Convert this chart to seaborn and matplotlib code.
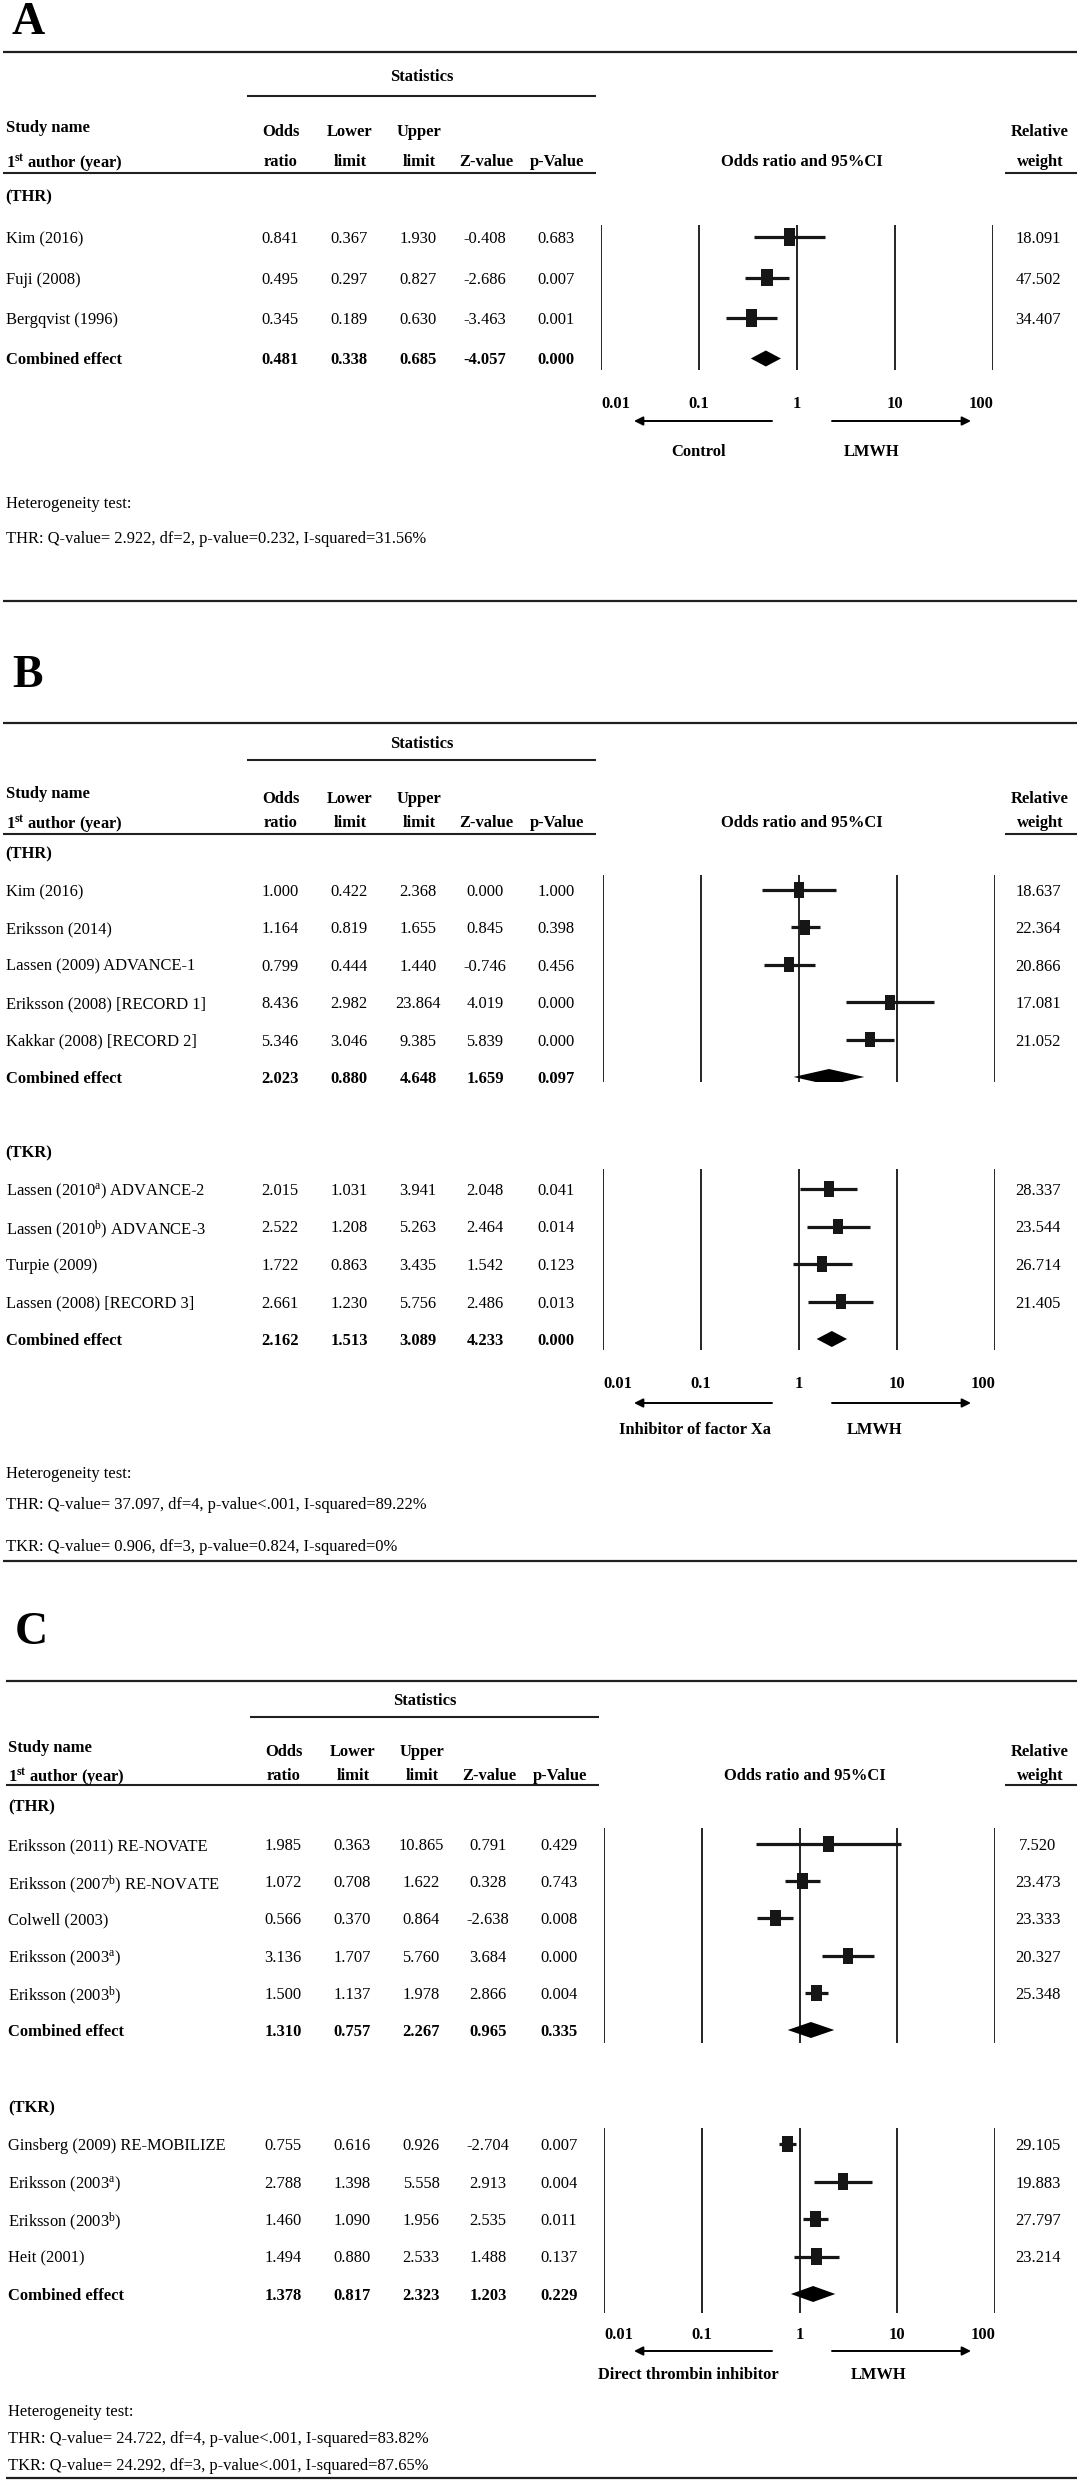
import numpy as np
import pandas as pd
import matplotlib
matplotlib.use("Agg")
import matplotlib.pyplot as plt
from matplotlib.ticker import NullLocator
import seaborn as sns

# ---------------- data ----------------
a_thr_names = ["Kim (2016)", "Fuji (2008)", "Bergqvist (1996)"]
a_thr_or = [0.841, 0.495, 0.345]
a_thr_lo = [0.367, 0.297, 0.189]
a_thr_hi = [1.930, 0.827, 0.630]
a_thr_z = [-0.408, -2.686, -3.463]
a_thr_p = [0.683, 0.007, 0.001]
a_thr_w = [18.091, 47.502, 34.407]
a_thr_comb = [0.481, 0.338, 0.685, -4.057, 0.000]

b_thr_names = ["Kim (2016)", "Eriksson (2014)", "Lassen (2009) ADVANCE-1",
               "Eriksson (2008) [RECORD 1]", "Kakkar (2008) [RECORD 2]"]
b_thr_or = [1.000, 1.164, 0.799, 8.436, 5.346]
b_thr_lo = [0.422, 0.819, 0.444, 2.982, 3.046]
b_thr_hi = [2.368, 1.655, 1.440, 23.864, 9.385]
b_thr_z = [0.000, 0.845, -0.746, 4.019, 5.839]
b_thr_p = [1.000, 0.398, 0.456, 0.000, 0.000]
b_thr_w = [18.637, 22.364, 20.866, 17.081, 21.052]
b_thr_comb = [2.023, 0.880, 4.648, 1.659, 0.097]

b_tkr_names = [r"Lassen (2010$^{\mathrm{a}}$) ADVANCE-2", r"Lassen (2010$^{\mathrm{b}}$) ADVANCE-3",
               "Turpie (2009)", "Lassen (2008) [RECORD 3]"]
b_tkr_or = [2.015, 2.522, 1.722, 2.661]
b_tkr_lo = [1.031, 1.208, 0.863, 1.230]
b_tkr_hi = [3.941, 5.263, 3.435, 5.756]
b_tkr_z = [2.048, 2.464, 1.542, 2.486]
b_tkr_p = [0.041, 0.014, 0.123, 0.013]
b_tkr_w = [28.337, 23.544, 26.714, 21.405]
b_tkr_comb = [2.162, 1.513, 3.089, 4.233, 0.000]

c_thr_names = ["Eriksson (2011) RE-NOVATE", r"Eriksson (2007$^{\mathrm{b}}$) RE-NOVATE",
               "Colwell (2003)", r"Eriksson (2003$^{\mathrm{a}}$)", r"Eriksson (2003$^{\mathrm{b}}$)"]
c_thr_or = [1.985, 1.072, 0.566, 3.136, 1.500]
c_thr_lo = [0.363, 0.708, 0.370, 1.707, 1.137]
c_thr_hi = [10.865, 1.622, 0.864, 5.760, 1.978]
c_thr_z = [0.791, 0.328, -2.638, 3.684, 2.866]
c_thr_p = [0.429, 0.743, 0.008, 0.000, 0.004]
c_thr_w = [7.520, 23.473, 23.333, 20.327, 25.348]
c_thr_comb = [1.310, 0.757, 2.267, 0.965, 0.335]

c_tkr_names = ["Ginsberg (2009) RE-MOBILIZE", r"Eriksson (2003$^{\mathrm{a}}$)",
               r"Eriksson (2003$^{\mathrm{b}}$)", "Heit (2001)"]
c_tkr_or = [0.755, 2.788, 1.460, 1.494]
c_tkr_lo = [0.616, 1.398, 1.090, 0.880]
c_tkr_hi = [0.926, 5.558, 1.956, 2.533]
c_tkr_z = [-2.704, 2.913, 2.535, 1.488]
c_tkr_p = [0.007, 0.004, 0.011, 0.137]
c_tkr_w = [29.105, 19.883, 27.797, 23.214]
c_tkr_comb = [1.378, 0.817, 2.323, 1.203, 0.229]

a_het = ["Heterogeneity test:",
         "THR: Q-value= 2.922, df=2, p-value=0.232, I-squared=31.56%"]
b_het = ["Heterogeneity test:",
         "THR: Q-value= 37.097, df=4, p-value<.001, I-squared=89.22%",
         "TKR: Q-value= 0.906, df=3, p-value=0.824, I-squared=0%"]
c_het = ["Heterogeneity test:",
         "THR: Q-value= 24.722, df=4, p-value<.001, I-squared=83.82%",
         "TKR: Q-value= 24.292, df=3, p-value<.001, I-squared=87.65%"]

tick_vals = [0.01, 0.1, 1, 10, 100]
tick_labels = ["0.01", "0.1", "1", "10", "100"]
hdr_top = ["Odds", "Lower", "Upper"]
hdr_bottom = ["ratio", "limit", "limit", "Z-value", "p-Value"]


def group(names, odds, lo, hi, z, p, w, comb):
    return dict(names=names, odds=odds, lower=lo, upper=hi, z=z, p=p, weight=w, combined=comb)


A_THR = group(a_thr_names, a_thr_or, a_thr_lo, a_thr_hi, a_thr_z, a_thr_p, a_thr_w, a_thr_comb)
B_THR = group(b_thr_names, b_thr_or, b_thr_lo, b_thr_hi, b_thr_z, b_thr_p, b_thr_w, b_thr_comb)
B_TKR = group(b_tkr_names, b_tkr_or, b_tkr_lo, b_tkr_hi, b_tkr_z, b_tkr_p, b_tkr_w, b_tkr_comb)
C_THR = group(c_thr_names, c_thr_or, c_thr_lo, c_thr_hi, c_thr_z, c_thr_p, c_thr_w, c_thr_comb)
C_TKR = group(c_tkr_names, c_tkr_or, c_tkr_lo, c_tkr_hi, c_tkr_z, c_tkr_p, c_tkr_w, c_tkr_comb)

# ---------------- layout (pixels) ----------------
panels = [
    dict(letter="A", dx=0, letter_y=23, top_rule=52, stats_y=75, stats_rule=96,
         hdr_study=126, hdr1=130, hdr2=160, hdr_rule=173, plot_x=(601, 993), tick_pad=19,
         arrow_y=421, side_y=450, left_side=("Control", 699), right_side=("LMWH", 872),
         het=a_het, het_y=[502, 537], bottom_rule=601, box=150,
         groups=[dict(data=A_THR, tag="(THR)", tag_y=195.5, row0=237, dy=40.5, top=224.6, bot=369.6)]),
    dict(letter="B", dx=0, letter_y=676, top_rule=723, stats_y=742, stats_rule=759.5,
         hdr_study=792, hdr1=796.6, hdr2=821, hdr_rule=833.7, plot_x=(603, 995), tick_pad=19,
         arrow_y=1403, side_y=1428, left_side=("Inhibitor of factor Xa", 695), right_side=("LMWH", 875),
         het=b_het, het_y=[1472, 1503, 1545], bottom_rule=1561, box=120,
         groups=[dict(data=B_THR, tag="(THR)", tag_y=852.5, row0=890, dy=37.4, top=874.5, bot=1082),
                 dict(data=B_TKR, tag="(TKR)", tag_y=1151.5, row0=1189, dy=37.5, top=1169, bot=1350)]),
    dict(letter="C", dx=3, letter_y=1633, top_rule=1680.6, stats_y=1698.6, stats_rule=1716.7,
         hdr_study=1746, hdr1=1750, hdr2=1773.7, hdr_rule=1785, plot_x=(604, 995), tick_pad=10,
         arrow_y=2351, side_y=2373, left_side=("Direct thrombin inhibitor", 688), right_side=("LMWH", 879),
         het=c_het, het_y=[2410, 2437, 2464], bottom_rule=2478, box=135,
         groups=[dict(data=C_THR, tag="(THR)", tag_y=1805.7, row0=1844, dy=37.2, top=1828, bot=2043),
                 dict(data=C_TKR, tag="(TKR)", tag_y=2106, row0=2144, dy=37.5, top=2127.6, bot=2313)]),
]

W, H = 1078, 2481
FS = 11.9
INK = "#161616"
COLS = [281, 350, 419, 486, 557]
BOX = [(-0.66, -1), (0.66, -1), (0.66, 1), (-0.66, 1), (-0.66, -1)]

sns.set_theme(style="white")
plt.rcParams["font.family"] = ["Liberation Serif", "DejaVu Serif"]
plt.rcParams["mathtext.fontset"] = "custom"
plt.rcParams["mathtext.rm"] = "Liberation Serif"
plt.rcParams["mathtext.it"] = "Liberation Serif:italic"
plt.rcParams["mathtext.bf"] = "Liberation Serif:bold"

fig = plt.figure(figsize=(W / 100, H / 100), dpi=100)
bg = fig.add_axes([0, 0, 1, 1])
bg.set_xlim(0, W)
bg.set_ylim(H, 0)
bg.axis("off")


def put(x, y, s, bold=False, ha="center", size=FS):
    bg.text(x, y, s, ha=ha, va="center_baseline", fontsize=size, color="black",
            fontweight="bold" if bold else "normal")


def rule(y, x0, x1, lw=1.5):
    bg.hlines(y, x0, x1, color="#202020", lw=lw)


def draw_forest(pan, grp, show_ticks):
    d = grp["data"]
    n = len(d["names"])
    x0, x1 = pan["plot_x"]
    top, bot = grp["top"], grp["bot"]
    ax = fig.add_axes([x0 / W, 1 - bot / H, (x1 - x0) / W, (bot - top) / H])
    ax.set_facecolor("none")
    df = pd.DataFrame({"odds": d["odds"], "row": np.arange(n)})
    ax.hlines(df["row"], d["lower"], d["upper"], color=INK, lw=2.3, zorder=3)
    sns.scatterplot(data=df, x="odds", y="row", marker=BOX, s=pan["box"], color=INK,
                    edgecolor="none", linewidth=0, legend=False, ax=ax, zorder=4)
    c_or, c_lo, c_hi = d["combined"][:3]
    half = 8 / grp["dy"]
    ax.fill([c_lo, c_or, c_hi, c_or], [n, n - half, n, n + half], color="black", lw=0, zorder=4)
    ax.set_xscale("log")
    ax.set_xlim(0.01, 100)
    ax.set_ylim((bot - grp["row0"]) / grp["dy"], (top - grp["row0"]) / grp["dy"])
    ax.set(xlabel="", ylabel="", yticks=[])
    ax.set_xticks(tick_vals)
    ax.xaxis.set_minor_locator(NullLocator())
    ax.grid(True, axis="x", which="major", color="black", lw=1.2)
    for sp in ax.spines.values():
        sp.set_visible(False)
    if show_ticks:
        ax.set_xticklabels(tick_labels, fontweight="bold", fontsize=FS)
        labs = ax.get_xticklabels()
        labs[0].set_ha("left")
        labs[-1].set_ha("right")
        ax.tick_params(axis="x", length=0, pad=pan["tick_pad"], colors="black")
    else:
        ax.tick_params(axis="x", length=0, labelbottom=False)


for pan in panels:
    dx = pan["dx"]
    bg.text(12 + dx, pan["letter_y"], pan["letter"], ha="left", va="center",
            fontsize=33, fontweight="bold", color="black")
    rule(pan["top_rule"], 3 + dx, 1077, lw=1.6)
    rule(pan["bottom_rule"], 3 + dx, 1077, lw=1.6)

    # table header
    put(421.5 + dx, pan["stats_y"], "Statistics", bold=True)
    rule(pan["stats_rule"], 247 + dx, 596 + dx)
    put(5.5 + dx, pan["hdr_study"], "Study name", bold=True, ha="left")
    put(5.5 + dx, pan["hdr2"], r"1$^{\mathbf{st}}$ author (year)", bold=True, ha="left")
    for cx, s in zip(COLS, hdr_top):
        put(cx + dx, pan["hdr1"], s, bold=True)
    for cx, s in zip(COLS, hdr_bottom):
        put(cx + dx, pan["hdr2"], s, bold=True)
    put(801.6 + dx, pan["hdr2"], "Odds ratio and 95%CI", bold=True)
    put(1040, pan["hdr1"], "Relative", bold=True)
    put(1040, pan["hdr2"], "weight", bold=True)
    rule(pan["hdr_rule"], 3 + dx, 596 + dx)
    rule(pan["hdr_rule"], 1005, 1077)

    # study rows
    for gi, grp in enumerate(pan["groups"]):
        d = grp["data"]
        put(5.5 + dx, grp["tag_y"], grp["tag"], bold=True, ha="left")
        for i, name in enumerate(d["names"]):
            y = grp["row0"] + i * grp["dy"]
            put(5.5 + dx, y, name, ha="left")
            vals = [d["odds"][i], d["lower"][i], d["upper"][i], d["z"][i], d["p"][i]]
            for cx, v in zip(COLS, vals):
                put(cx - 1 + dx, y, f"{v:.3f}")
            put(1038, y, f"{d['weight'][i]:.3f}")
        y = grp["row0"] + len(d["names"]) * grp["dy"]
        put(5.5 + dx, y, "Combined effect", bold=True, ha="left")
        for cx, v in zip(COLS, d["combined"]):
            put(cx - 1 + dx, y, f"{v:.3f}", bold=True)
        draw_forest(pan, grp, gi == len(pan["groups"]) - 1)

    # direction arrows
    ay = pan["arrow_y"]
    bg.annotate("", xy=(634, ay), xytext=(772, ay),
                arrowprops=dict(arrowstyle="-|>", color="black", lw=1.4, mutation_scale=13,
                                shrinkA=0, shrinkB=0))
    bg.annotate("", xy=(971, ay), xytext=(832, ay),
                arrowprops=dict(arrowstyle="-|>", color="black", lw=1.4, mutation_scale=13,
                                shrinkA=0, shrinkB=0))
    put(pan["left_side"][1], pan["side_y"], pan["left_side"][0], bold=True)
    put(pan["right_side"][1], pan["side_y"], pan["right_side"][0], bold=True)

    for s, y in zip(pan["het"], pan["het_y"]):
        put(5.5 + dx, y, s, ha="left")

fig.savefig("out.png", dpi=100, facecolor="white")
